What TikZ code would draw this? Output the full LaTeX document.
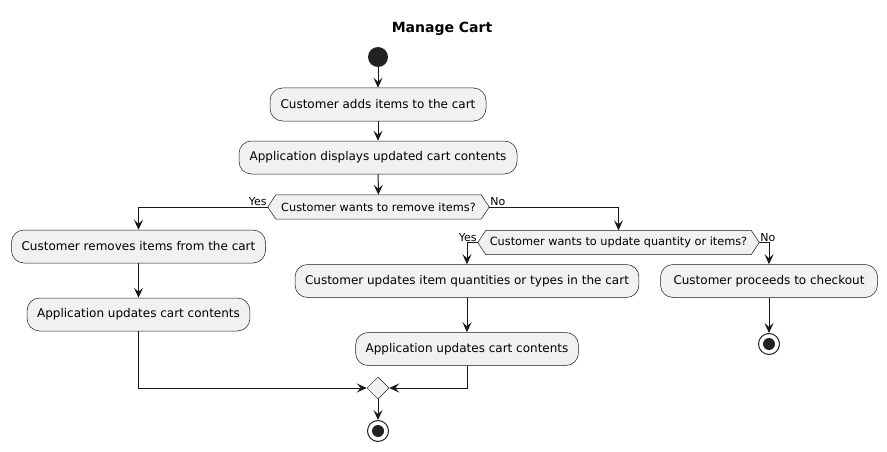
\documentclass[tikz,border=0pt]{standalone}
\usepackage{fontspec}
\setmainfont{DejaVu Sans}
\usetikzlibrary{arrows.meta,calc,shapes.geometric}
\definecolor{boxfill}{HTML}{F1F1F1}
\definecolor{lineclr}{HTML}{181818}
\definecolor{dotclr}{HTML}{222222}
\begin{document}
\begin{tikzpicture}[x=1pt,y=-1pt,
  actbox/.style={draw=lineclr,line width=0.5pt,fill=boxfill,rounded corners=12.5pt,minimum height=33pt,inner xsep=10pt,font=\fontsize{12}{14}\selectfont},
  decnode/.style={inner sep=0pt,minimum height=24pt,font=\fontsize{11.3}{13}\selectfont},
  hexline/.style={draw=lineclr,line width=0.5pt,fill=boxfill},
  arr/.style={draw=lineclr,line width=1pt,-{Stealth[length=10pt,width=9pt,inset=4pt]}},
  lbl/.style={inner sep=1pt,font=\fontsize{11}{13}\selectfont},
  merge/.style={draw=lineclr,line width=0.5pt,fill=boxfill,shape=diamond,minimum width=22pt,minimum height=22pt,inner sep=0pt}
]
\useasboundingbox (0,0) rectangle (887,452);
\node[font=\bfseries\fontsize{14}{16}\selectfont] (title) at (442,28.5) {Manage Cart};
\node[circle,fill=dotclr,minimum size=20pt,inner sep=0pt] (start) at (378,57) {};
\node[actbox,minimum width=216pt] (b1) at (378,104.5) {Customer adds items to the cart};
\node[actbox,minimum width=278pt] (b2) at (378,157.5) {Application displays updated cart contents};
% decision 1
\node[decnode,minimum width=221pt] (d1) at (378.5,207) {};
\path[hexline] (d1.west) -- ($(d1.north west)+(8,0)$) -- ($(d1.north east)+(-8,0)$) -- (d1.east) -- ($(d1.south east)+(-8,0)$) -- ($(d1.south west)+(8,0)$) -- cycle;
\node[decnode] (d1t) at (d1.center) {Customer wants to remove items?};
\node[lbl,anchor=south east] (y1) at (d1.west) {Yes};
\node[lbl,anchor=south west] (n1) at (d1.east) {No};
% left branch
\node[actbox,minimum width=254pt] (b3) at (138.5,246.5) {Customer removes items from the cart};
\node[actbox,minimum width=222pt] (b4) at (138.5,314.5) {Application updates cart contents};
% decision 2
\node[decnode,minimum width=281pt] (d2) at (618.5,242.5) {};
\path[hexline] (d2.west) -- ($(d2.north west)+(8,0)$) -- ($(d2.north east)+(-8,0)$) -- (d2.east) -- ($(d2.south east)+(-8,0)$) -- ($(d2.south west)+(8,0)$) -- cycle;
\node[decnode] (d2t) at (d2.center) {Customer wants to update quantity or items?};
\node[lbl,anchor=south east] (y2) at (d2.west) {Yes};
\node[lbl,anchor=south west] (n2) at (d2.east) {No};
\node[actbox,minimum width=343pt] (b5) at (467,281) {Customer updates item quantities or types in the cart};
\node[actbox,minimum width=222pt] (b6) at (467,349) {Application updates cart contents};
\node[actbox,minimum width=217pt] (b7) at (769,281) {Customer proceeds to checkout};
% merge and ends
\node[merge] (m) at (378,388) {};
\node[circle,draw=dotclr,line width=1pt,fill=white,minimum size=21pt,inner sep=0pt] (e1) at (378,431) {};
\node[circle,fill=dotclr,minimum size=12pt,inner sep=0pt] at (e1.center) {};
\node[circle,draw=dotclr,line width=1pt,fill=white,minimum size=21pt,inner sep=0pt] (e2) at (769,344) {};
\node[circle,fill=dotclr,minimum size=12pt,inner sep=0pt] at (e2.center) {};
% connectors
\draw[arr] (start) -- (b1);
\draw[arr] (b1) -- (b2);
\draw[arr] (b2) -- (d1);
\draw[arr] (d1.west) -| (b3.north);
\draw[arr] (b3) -- (b4);
\draw[arr] (b4.south) |- (m.west);
\draw[arr] (d1.east) -| (d2.north);
\draw[arr] (d2.west) -| (b5.north);
\draw[arr] (b5) -- (b6);
\draw[arr] (b6.south) |- (m.east);
\draw[arr] (d2.east) -| (b7.north);
\draw[arr] (b7) -- (e2);
\draw[arr] (m) -- (e1);
\end{tikzpicture}
\end{document}
